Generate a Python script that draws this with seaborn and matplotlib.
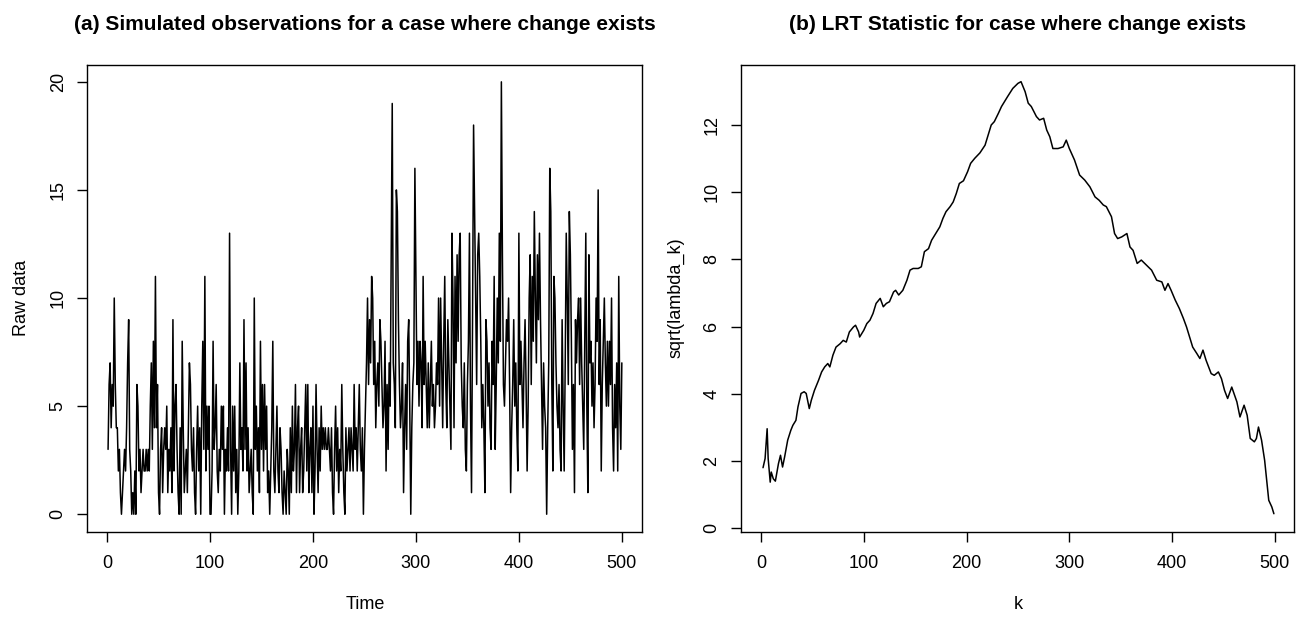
import numpy as np
import pandas as pd
import matplotlib
matplotlib.use("Agg")
import matplotlib.pyplot as plt
import seaborn as sns

# ---------------- data ----------------
raw_first_half = [
    3, 6, 7, 4, 6, 5, 10, 6, 4, 4,
    2, 3, 1, 0, 1, 2, 3, 2, 4, 7,
    9, 3, 2, 0, 1, 0, 2, 0, 6, 5,
    2, 3, 1, 2, 3, 2, 2, 3, 2, 3,
    2, 5, 7, 3, 8, 4, 11, 4, 6, 1,
    0, 3, 4, 1, 3, 4, 3, 5, 1, 3,
    2, 4, 1, 9, 2, 5, 6, 3, 1, 0,
    4, 0, 8, 4, 1, 2, 3, 1, 4, 7,
    6, 3, 2, 4, 1, 0, 3, 5, 2, 4,
    0, 5, 8, 3, 11, 2, 5, 3, 5, 0,
    0, 2, 8, 3, 4, 6, 2, 1, 3, 2,
    5, 3, 5, 0, 3, 2, 4, 2, 13, 3,
    0, 5, 2, 5, 1, 3, 0, 2, 7, 3,
    4, 2, 9, 3, 7, 2, 4, 1, 2, 3,
    1, 0, 10, 3, 5, 2, 4, 1, 8, 3,
    6, 2, 6, 3, 5, 1, 2, 0, 2, 4,
    8, 2, 1, 3, 5, 2, 1, 4, 3, 1,
    0, 2, 1, 0, 3, 2, 0, 4, 1, 5,
    2, 3, 6, 1, 4, 5, 1, 3, 4, 1,
    2, 4, 6, 2, 6, 1, 3, 4, 1, 5,
    0, 2, 6, 3, 1, 4, 2, 5, 3, 4,
    3, 4, 3, 3, 4, 3, 2, 4, 1, 0,
    3, 5, 2, 4, 1, 3, 2, 6, 3, 1,
    0, 4, 2, 3, 4, 2, 4, 3, 2, 6,
    3, 4, 2, 4, 6, 3, 2, 4, 0, 3,
]
raw_second_half = [
    5, 7, 10, 6, 9, 7, 11, 10, 6, 8,
    4, 6, 7, 5, 9, 8, 6, 4, 5, 8,
    2, 6, 3, 7, 5, 12, 19, 7, 6, 4,
    15, 14, 9, 6, 4, 5, 7, 1, 4, 6,
    3, 8, 9, 5, 0, 4, 6, 7, 16, 11,
    6, 8, 5, 8, 7, 4, 11, 6, 8, 6,
    4, 7, 4, 6, 8, 5, 6, 4, 5, 7,
    6, 10, 5, 10, 7, 4, 8, 11, 6, 4,
    9, 7, 5, 3, 13, 10, 4, 11, 7, 12,
    8, 12, 13, 7, 5, 4, 7, 3, 2, 6,
    8, 13, 5, 1, 9, 18, 14, 10, 6, 12,
    13, 11, 8, 4, 6, 4, 1, 9, 8, 5,
    7, 4, 3, 8, 6, 11, 3, 6, 10, 7,
    13, 8, 20, 12, 6, 5, 7, 9, 8, 10,
    6, 1, 4, 6, 9, 5, 7, 4, 2, 13,
    6, 8, 6, 4, 7, 9, 6, 2, 5, 10,
    12, 6, 11, 8, 14, 10, 7, 12, 9, 13,
    9, 6, 3, 7, 5, 4, 0, 4, 7, 16,
    14, 6, 2, 11, 10, 7, 5, 4, 6, 3,
    2, 9, 5, 2, 7, 13, 10, 6, 14, 12,
    8, 3, 6, 1, 9, 7, 9, 10, 6, 10,
    7, 5, 3, 8, 13, 5, 1, 12, 7, 8,
    5, 7, 4, 6, 10, 8, 15, 6, 9, 2,
    6, 8, 10, 7, 5, 8, 5, 8, 6, 10,
    4, 2, 6, 4, 7, 2, 11, 5, 3, 7,
]
raw_data = raw_first_half + raw_second_half
time_index = list(range(1, len(raw_data) + 1))

k_values = [2, 4, 6, 7, 9, 10, 12, 14, 17, 19, 21, 23, 26, 29, 31, 34, 36, 39, 42, 44,
            47, 49, 52, 56, 59, 62, 65, 67, 70, 73, 77, 80, 83, 86, 90, 92, 95, 96, 100, 103,
            106, 109, 112, 116, 119, 122, 125, 129, 131, 134, 138, 142, 145, 148, 153, 156, 159, 163, 166, 171,
            174, 177, 180, 184, 187, 190, 193, 197, 201, 204, 208, 213, 218, 221, 224, 227, 231, 234, 237, 240,
            245, 250, 253, 257, 260, 263, 268, 271, 275, 278, 281, 284, 289, 294, 297, 300, 305, 310, 315, 320,
            325, 329, 333, 336, 341, 344, 347, 351, 356, 359, 362, 366, 370, 375, 380, 385, 390, 393, 396, 399,
            403, 407, 411, 414, 417, 420, 424, 427, 430, 433, 438, 441, 445, 448, 451, 454, 458, 463, 466, 470,
            473, 476, 480, 482, 484, 487, 490, 492, 494, 497, 499]
sqrt_lambda = [1.80, 2.07, 2.96, 2.07, 1.37, 1.67, 1.47, 1.40, 1.92, 2.17, 1.82, 2.12, 2.62, 2.91, 3.06, 3.21, 3.61, 4.01, 4.06, 4.01,
               3.56, 3.81, 4.10, 4.40, 4.65, 4.80, 4.90, 4.80, 5.15, 5.39, 5.49, 5.59, 5.54, 5.84, 5.99, 6.04, 5.84, 5.69, 5.89, 6.09,
               6.19, 6.39, 6.69, 6.84, 6.59, 6.69, 6.74, 7.03, 7.08, 6.94, 7.08, 7.38, 7.68, 7.73, 7.73, 7.78, 8.23, 8.32, 8.57, 8.82,
               8.97, 9.22, 9.42, 9.57, 9.71, 9.96, 10.26, 10.34, 10.61, 10.86, 11.01, 11.17, 11.40, 11.70, 12.00, 12.10, 12.35, 12.55, 12.70, 12.85,
               13.09, 13.24, 13.29, 12.99, 12.65, 12.55, 12.25, 12.15, 12.20, 11.85, 11.65, 11.30, 11.30, 11.35, 11.55, 11.30, 10.96, 10.51, 10.36, 10.16,
               9.86, 9.76, 9.62, 9.57, 9.27, 8.77, 8.62, 8.67, 8.77, 8.37, 8.27, 7.88, 7.98, 7.83, 7.68, 7.38, 7.33, 7.08, 7.28, 7.08,
               6.79, 6.54, 6.24, 5.99, 5.69, 5.39, 5.20, 5.05, 5.30, 5.00, 4.60, 4.55, 4.65, 4.45, 4.10, 3.86, 4.20, 3.76, 3.31, 3.66,
               3.36, 2.67, 2.57, 2.67, 3.01, 2.62, 2.02, 1.42, 0.83, 0.63, 0.43]

x_ticks = [0, 100, 200, 300, 400, 500]
left_y_ticks = [0, 5, 10, 15, 20]
right_y_ticks = [0, 2, 4, 6, 8, 10, 12]

title_a = "(a) Simulated observations for a case where change exists"
title_b = "(b) LRT Statistic for case where change exists"

# ---------------- style ----------------
sns.set_theme(style="white")
plt.rcParams['font.family'] = ['Liberation Sans', 'DejaVu Sans']

df_a = pd.DataFrame({"Time": time_index, "Raw data": raw_data})
df_b = pd.DataFrame({"k": k_values, "sqrt(lambda_k)": sqrt_lambda})

fig = plt.figure(figsize=(12.96, 6.2), dpi=100)
ax1 = fig.add_axes([0.0675, 0.1427, 0.4282, 0.7532])
ax2 = fig.add_axes([0.5721, 0.1427, 0.4267, 0.7532])

sns.lineplot(data=df_a, x="Time", y="Raw data", ax=ax1, color="black",
             linewidth=1.1, estimator=None, sort=False)
sns.lineplot(data=df_b, x="k", y="sqrt(lambda_k)", ax=ax2, color="black",
             linewidth=1.1, estimator=None, sort=False)

ax1.set_xlim(-19, 520)
ax1.set_ylim(-0.8, 20.8)
ax2.set_xlim(-19, 519)
ax2.set_ylim(-0.1, 13.8)

for ax, yt, title, xl, yl in [(ax1, left_y_ticks, title_a, "Time", "Raw data"),
                              (ax2, right_y_ticks, title_b, "k", "sqrt(lambda_k)")]:
    ax.set_xticks(x_ticks)
    ax.set_yticks(yt)
    ax.set_xticklabels([str(v) for v in x_ticks])
    ax.set_yticklabels([str(v) for v in yt], rotation=90, va="center")
    ax.tick_params(axis="both", which="major", direction="out", length=7,
                   width=1.0, color="black", labelsize=13, labelcolor="black")
    ax.tick_params(axis="x", pad=10)
    ax.tick_params(axis="y", pad=8)
    ax.tick_params(top=False, right=False, bottom=True, left=True)
    for sp in ax.spines.values():
        sp.set_visible(True)
        sp.set_color("black")
        sp.set_linewidth(1.0)
    ax.set_xlabel(xl, fontsize=13, labelpad=17, color="black")
    ax.set_ylabel(yl, fontsize=13, labelpad=14, color="black")
    ax.set_title(title, fontsize=15, fontweight="bold", pad=25, color="black")
    ax.grid(False)
    ax.set_facecolor("white")

fig.savefig("out.png", dpi=100, facecolor="white")
